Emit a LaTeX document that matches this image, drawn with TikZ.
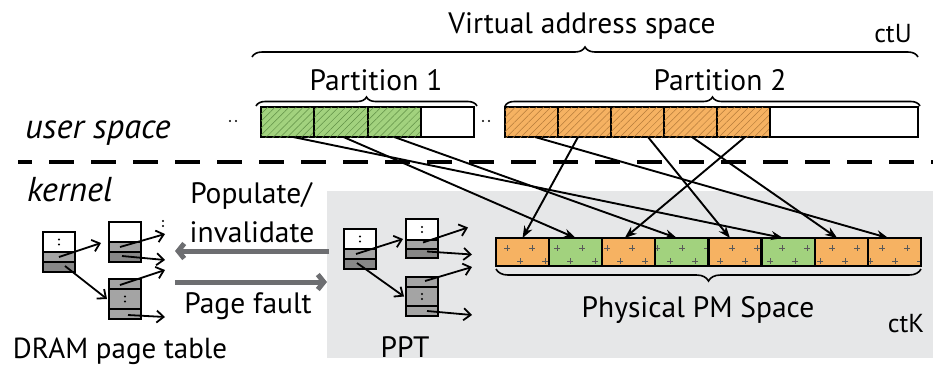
\documentclass[tikz,border=0pt]{standalone}
\usepackage{fontspec}
\setmainfont{PT Sans}
\usetikzlibrary{arrows.meta,decorations.pathreplacing,patterns.meta,calc}
\definecolor{pgreen}{HTML}{A2D27E}
\definecolor{porange}{HTML}{F6B262}
\definecolor{hgreen}{HTML}{5F8F45}
\definecolor{horange}{HTML}{B57B3A}
\definecolor{kbg}{HTML}{E6E7E8}
\definecolor{ptl}{HTML}{A4A4A4}
\definecolor{ptd}{HTML}{878787}
\definecolor{garrow}{HTML}{6D6E71}
\begin{document}
\begin{tikzpicture}[x=1pt,y=-1pt,
  lbl/.style={font=\fontsize{29.5}{31}\selectfont, inner sep=0pt, anchor=base},
  smalllbl/.style={font=\fontsize{26}{28}\selectfont, inner sep=0pt, anchor=base},
  itl/.style={font=\fontsize{34.5}{36}\selectfont\itshape, inner sep=0pt, anchor=base west},
  vcell/.style={draw, line width=2.2pt, minimum height=30pt, inner sep=0pt, anchor=north west, outer sep=0pt},
  gcell/.style={vcell, minimum width=53.3pt, fill=pgreen, postaction={pattern={Lines[angle=45,distance=5pt,line width=0.5pt]}, pattern color=hgreen}},
  ocell/.style={vcell, minimum width=53pt, fill=porange, postaction={pattern={Lines[angle=45,distance=5pt,line width=0.5pt]}, pattern color=horange}},
  pcell/.style={minimum width=53.1pt, minimum height=28pt, inner sep=0pt, anchor=north west, outer sep=0pt},
  ptrow/.style={draw, line width=1.8pt, minimum width=32pt, inner sep=0pt, anchor=north west, outer sep=0pt},
  map/.style={line width=1.9pt, -{Stealth[length=12pt,width=9pt]}},
  ptarrow/.style={line width=1.8pt, -{Straight Barb[length=7pt,width=12pt]}},
  bigarrow/.style={line width=5pt, draw=garrow, -{Straight Barb[length=6pt,width=15pt]}},
  brc/.style={decorate, line width=1.6pt}
]
\useasboundingbox (0,0) rectangle (933,368);

% kernel background
\node[fill=kbg, minimum width=606pt, minimum height=167pt, inner sep=0pt, anchor=north west] (kbox) at (327,191) {};

% dashed separator
\draw[line width=4.5pt, dash pattern=on 25pt off 17pt, dash phase=11pt] (18,162) -- (933,162);

% labels
\node[lbl] (vas) at (582,33) {Virtual address space};
\node[smalllbl] (ctu) at (893,42) {ctU};
\node[lbl] (p1l) at (376,90) {Partition 1};
\node[lbl] (p2l) at (720,90) {Partition 2};
\node[itl] (us) at (25,138) {user space};
\node[itl] (kn) at (27,201) {kernel};
\node[lbl] (pop) at (251,203) {Populate/};
\node[lbl] (inv) at (252,242) {invalidate};
\node[lbl] (pf) at (248,313) {Page fault};
\node[lbl, font=\fontsize{29}{31}\selectfont] (drl) at (120,358.5) {DRAM page table};
\node[lbl] (ppt) at (405,357) {PPT};
\node[lbl] (pms) at (698,317) {Physical PM Space};
\node[smalllbl] (ctk) at (906,332) {ctK};

% braces
\draw[brc, decoration={brace, amplitude=10pt}] (252,57) -- (918,57);
\draw[brc, decoration={brace, amplitude=9pt}] (256,106) -- (477,106);
\draw[brc, decoration={brace, amplitude=9pt}] (505,106) -- (920,106);
\draw[brc, decoration={brace, amplitude=12pt}] (921,269) -- (496,269);

% virtual partitions
\node[gcell] (g1) at (261,107) {};
\node[gcell] (g2) at (314.3,107) {};
\node[gcell] (g3) at (367.6,107) {};
\node[vcell, minimum width=53.3pt, fill=white] (g4) at (420.9,107) {};
\node[ocell] (o1) at (505,107) {};
\node[ocell] (o2) at (558,107) {};
\node[ocell] (o3) at (611,107) {};
\node[ocell] (o4) at (664,107) {};
\node[ocell] (o5) at (717,107) {};
\node[vcell, minimum width=148pt, fill=white] (o6) at (770,107) {};
\fill (230,121) circle (1.1pt) (236,121) circle (1.1pt);
\fill (483,121) circle (1.1pt) (489,121) circle (1.1pt);

% physical space
\foreach \i/\c in {1/porange,2/pgreen,3/porange,4/pgreen,5/porange,6/pgreen,7/porange,8/porange}
  \node[pcell, fill=\c] (p\i) at ({496+53.1*(\i-1)},238) {};
\begin{scope}
  \clip (p1.north west) rectangle (p8.south east);
  \foreach \k in {0,...,16} {
    \draw[line width=0.6pt, black!65] ({507+25*\k-2.8},248) -- ({507+25*\k+2.8},248) ({507+25*\k},245.2) -- ({507+25*\k},250.8);
    \draw[line width=0.6pt, black!65] ({520+25*\k-2.8},261) -- ({520+25*\k+2.8},261) ({520+25*\k},258.2) -- ({520+25*\k},263.8);
  }
\end{scope}
\foreach \i in {1,...,8}
  \draw[line width=2.2pt] (p\i.north west) rectangle (p\i.south east);

% mapping arrows
\draw[map] ($(g1.south)+(5.5,0)$) -- ($(p6.north)+(-5,0)$);
\draw[map] ($(g2.south)+(2.5,0)$) -- ($(p2.north)+(0,0)$);
\draw[map] ($(g3.south)+(0,0)$) -- ($(p4.north)+(-5,0)$);
\draw[map] ($(o1.south)+(3.5,0)$) -- ($(p8.north)+(-6,0)$);
\draw[map] ($(o2.south)+(-6.5,0)$) -- ($(p1.north)+(0,0)$);
\draw[map] ($(o3.south)+(10.5,0)$) -- ($(p5.north)+(-5,0)$);
\draw[map] ($(o4.south)+(1.5,0)$) -- ($(p7.north)+(-4,0)$);
\draw[map] ($(o5.south)+(1.5,0)$) -- ($(p3.north)+(-4,0)$);

% DRAM page table
\node[ptrow, fill=white, minimum height=20pt] (dr0) at (43,232) {};
\node[ptrow, fill=ptl, minimum height=10pt] (dr1) at (43,252) {};
\node[ptrow, fill=ptd, minimum height=10pt] (dr2) at (43,262) {};
\node[ptrow, fill=white, minimum height=20pt] (dc1a) at (109,222) {};
\node[ptrow, fill=ptl, minimum height=10pt] (dc1b) at (109,242) {};
\node[ptrow, fill=ptd, minimum height=10pt] (dc1c) at (109,252) {};
\node[ptrow, fill=ptl, minimum height=10pt] (dc2a) at (109,279) {};
\node[ptrow, fill=ptl, minimum height=20pt] (dc2b) at (109,289) {};
\node[ptrow, fill=ptl, minimum height=10pt] (dc2c) at (109,309) {};
\fill ($(dr0.center)+(0,-2.5)$) circle (1.2pt) ($(dr0.center)+(0,2.5)$) circle (1.2pt);
\fill ($(dc2b.center)+(0,-2.5)$) circle (1.2pt) ($(dc2b.center)+(0,2.5)$) circle (1.2pt);
\fill (163,221) circle (1.2pt) (163,226) circle (1.2pt);
\draw[ptarrow] ($(dr1.center)+(0,0)$) -- ($(dc1b.north west)+(-8,1)$);
\draw[ptarrow] ($(dr2.center)+(6,-1)$) -- ($(dc2b.west)+(-2,0)$);
\draw[ptarrow] ($(dc1b.center)+(-5,0)$) -- ++(45,-13);
\draw[ptarrow] ($(dc1c.center)+(-3,-1)$) -- ++(43,4);
\draw[ptarrow] ($(dc2a.center)+(-5,1)$) -- ++(45,-15);
\draw[ptarrow] ($(dc2c.center)+(3,1)$) -- ++(37,2);

% PPT
\node[ptrow, fill=white, minimum height=20pt] (pr0) at (344,229) {};
\node[ptrow, fill=ptl, minimum height=10pt] (pr1) at (344,249) {};
\node[ptrow, fill=ptd, minimum height=10pt] (pr2) at (344,259) {};
\node[ptrow, fill=white, minimum height=21pt] (pc1a) at (406,219) {};
\node[ptrow, fill=ptl, minimum height=9pt] (pc1b) at (406,240) {};
\node[ptrow, fill=ptd, minimum height=9pt] (pc1c) at (406,249) {};
\node[ptrow, fill=ptl, minimum height=10pt] (pc2a) at (406,277) {};
\node[ptrow, fill=ptl, minimum height=19pt] (pc2b) at (406,287) {};
\node[ptrow, fill=ptl, minimum height=10pt] (pc2c) at (406,306) {};
\fill ($(pr0.center)+(0,-2.5)$) circle (1.2pt) ($(pr0.center)+(0,2.5)$) circle (1.2pt);
\fill ($(pc1a.center)+(0,-2.5)$) circle (1.2pt) ($(pc1a.center)+(0,2.5)$) circle (1.2pt);
\fill ($(pc2b.center)+(0,-2.5)$) circle (1.2pt) ($(pc2b.center)+(0,2.5)$) circle (1.2pt);
\draw[ptarrow] ($(pr1.center)+(-4,0)$) -- ($(pc1b.north west)+(-3,-1)$);
\draw[ptarrow] ($(pr2.center)+(-3,-1)$) -- ($(pc2b.west)+(-2,0)$);
\draw[ptarrow] ($(pc1b.center)+(1,-2)$) -- ++(45,-15);
\draw[ptarrow] ($(pc1c.center)+(5,-2)$) -- ++(45,3);
\draw[ptarrow] ($(pc2a.center)+(3,-1)$) -- ++(47,-14);
\draw[ptarrow] ($(pc2c.center)+(5,0)$) -- ++(45,4);

% populate / page fault arrows
\coordinate (dramin) at (175,251);
\coordinate (dramout) at (175,282);
\draw[bigarrow] ($(kbox.north west)+(2,60)$) -- (dramin);
\draw[bigarrow] (dramout) -- ($(kbox.north west)+(0,91)$);
\end{tikzpicture}
\end{document}
